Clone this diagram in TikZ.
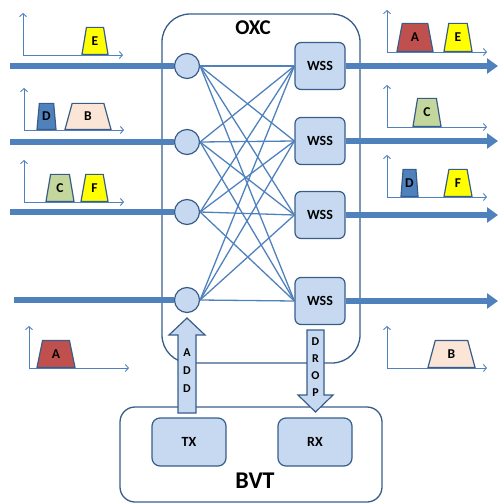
\documentclass[tikz,border=0pt]{standalone}
\usepackage{fontspec}
\setmainfont{Carlito}
\usepackage{tikz}
\usetikzlibrary{shapes.geometric, arrows.meta}
\definecolor{lineblue}{HTML}{4F81BD}
\definecolor{boxfill}{HTML}{C6D9F1}
\definecolor{boxdraw}{HTML}{385D8A}
\definecolor{bandred}{HTML}{C0504D}
\definecolor{bandyel}{HTML}{FFFF00}
\definecolor{bandpea}{HTML}{FBE5D6}
\definecolor{bandgrn}{HTML}{C3D69B}
\definecolor{bandblu}{HTML}{4F81BD}
\begin{document}
\begin{tikzpicture}[x=1pt,y=-1pt,
	split/.style = {draw=boxdraw, fill=boxfill, circle, minimum size=25pt, inner sep=0pt, line width=1.2pt},
	wss/.style = {draw=boxdraw, fill=boxfill, rounded corners=6pt, minimum width=50pt, minimum height=47pt, line width=1.2pt, font=\bfseries\fontsize{14}{14}\selectfont},
	outerbox/.style = {draw=boxdraw, line width=1.3pt, inner sep=0pt},
	fib/.style = {draw=lineblue, line width=5.5pt},
	mesh/.style = {draw=lineblue, line width=1.3pt},
	axis/.style = {draw=lineblue, line width=0.9pt, {Straight Barb[length=3pt,width=7pt]}-{Straight Barb[length=3pt,width=7pt]}},
	band/.style = {trapezium, trapezium angle=79, trapezium stretches=true, draw=boxdraw, line width=1.2pt, minimum height=27pt, inner sep=0pt, anchor=south, font=\bfseries\fontsize{13.5}{13.5}\selectfont},
	block/.style = {draw=boxdraw, fill=boxfill, line width=1.2pt}]
	\useasboundingbox (0,0) rectangle (498,503);
	% boxes
	\node[outerbox, rounded corners=28pt, minimum width=198pt, minimum height=349pt] (oxc) at (261,188.5) {};
	\node[font=\bfseries\fontsize{21}{21}\selectfont] (oxclbl) at (253,28) {OXC};
	\node[outerbox, rounded corners=15pt, minimum width=262pt, minimum height=95pt] (bvt) at (251,454.5) {};
	\node[font=\bfseries\fontsize{24}{24}\selectfont] (bvtlbl) at (255,481) {BVT};
	\node[wss, rounded corners=8pt, minimum width=74pt, minimum height=48pt] (tx) at (189,442) {TX};
	\node[wss, rounded corners=8pt, minimum width=74pt, minimum height=48pt] (rx) at (315,442) {RX};
	% splitters and wss
	\node[split] (s1) at (187,66) {};
	\node[split] (s2) at (187,142) {};
	\node[split] (s3) at (187,212) {};
	\node[split] (s4) at (187,300) {};
	\node[wss] (w1) at (320,66) {WSS};
	\node[wss] (w2) at (320,141) {WSS};
	\node[wss] (w3) at (320,215) {WSS};
	\node[wss] (w4) at (320,301) {WSS};
	% fibres
	\coordinate (in1) at (10,66);
	\coordinate (in2) at (10,142);
	\coordinate (in3) at (10,212);
	\coordinate (in4) at (14,300);
	\coordinate (out1) at (498,66);
	\coordinate (out2) at (498,141);
	\coordinate (out3) at (498,215);
	\coordinate (out4) at (498,301);
	\foreach \i in {1,...,4} {
		\draw[fib] (in\i) -- (s\i.west);
		\draw[fib, -{Triangle[length=11pt,width=15pt]}] (w\i.east) -- (out\i);
		\foreach \j in {1,...,4} {\draw[mesh] (s\i.east) -- (w\j.west);}
	}
	% add / drop
	\draw[block] (178,413) -- (178,335) -- (169,335) -- (187,318) -- (205,335) -- (196,335) -- (196,413) -- cycle;
	\draw[block] (307,330) -- (307,395) -- (298,395) -- (315.5,412) -- (333,395) -- (324,395) -- (324,330) -- cycle;
	\node[font=\bfseries\fontsize{12}{18}\selectfont, align=center] (addlbl) at (187,371) {A\\D\\D};
	\node[font=\bfseries\fontsize{12}{17}\selectfont, align=center] (droplbl) at (315.5,367) {D\\R\\O\\P};
	% spectra
	\foreach \x/\y in {23/55, 24/130, 24/202, 29/368, 387/52, 387/127, 387/197, 387/368}
		\draw[axis] (\x,\y-42) |- (\x+100,\y);
	\node[band, fill=bandyel, minimum width=26pt] (lE) at (95,55) {E};
	\node[band, fill=bandblu, trapezium angle=81, minimum width=19pt, minimum height=26pt] (lD) at (46.5,130) {D};
	\node[band, fill=bandpea, minimum width=46pt, minimum height=26pt] (lB) at (88,130) {B};
	\node[band, fill=bandgrn, minimum width=28pt] (lC) at (60,202) {C};
	\node[band, fill=bandyel, minimum width=27pt] (lF) at (94.5,202) {F};
	\node[band, fill=bandred, minimum width=38pt] (lA) at (56,368) {A};
	\node[band, fill=bandred, minimum width=36pt, minimum height=28pt] (rA) at (415,52) {A};
	\node[band, fill=bandyel, minimum width=28pt, minimum height=28pt] (rE) at (458,52) {E};
	\node[band, fill=bandgrn, minimum width=28pt, minimum height=28pt] (rC) at (427,127) {C};
	\node[band, fill=bandblu, trapezium angle=81, minimum width=17pt] (rD) at (409.5,197) {D};
	\node[band, fill=bandyel, minimum width=28pt] (rF) at (458,197) {F};
	\node[band, fill=bandpea, minimum width=47pt] (rB) at (451.5,368) {B};
\end{tikzpicture}
\end{document}
